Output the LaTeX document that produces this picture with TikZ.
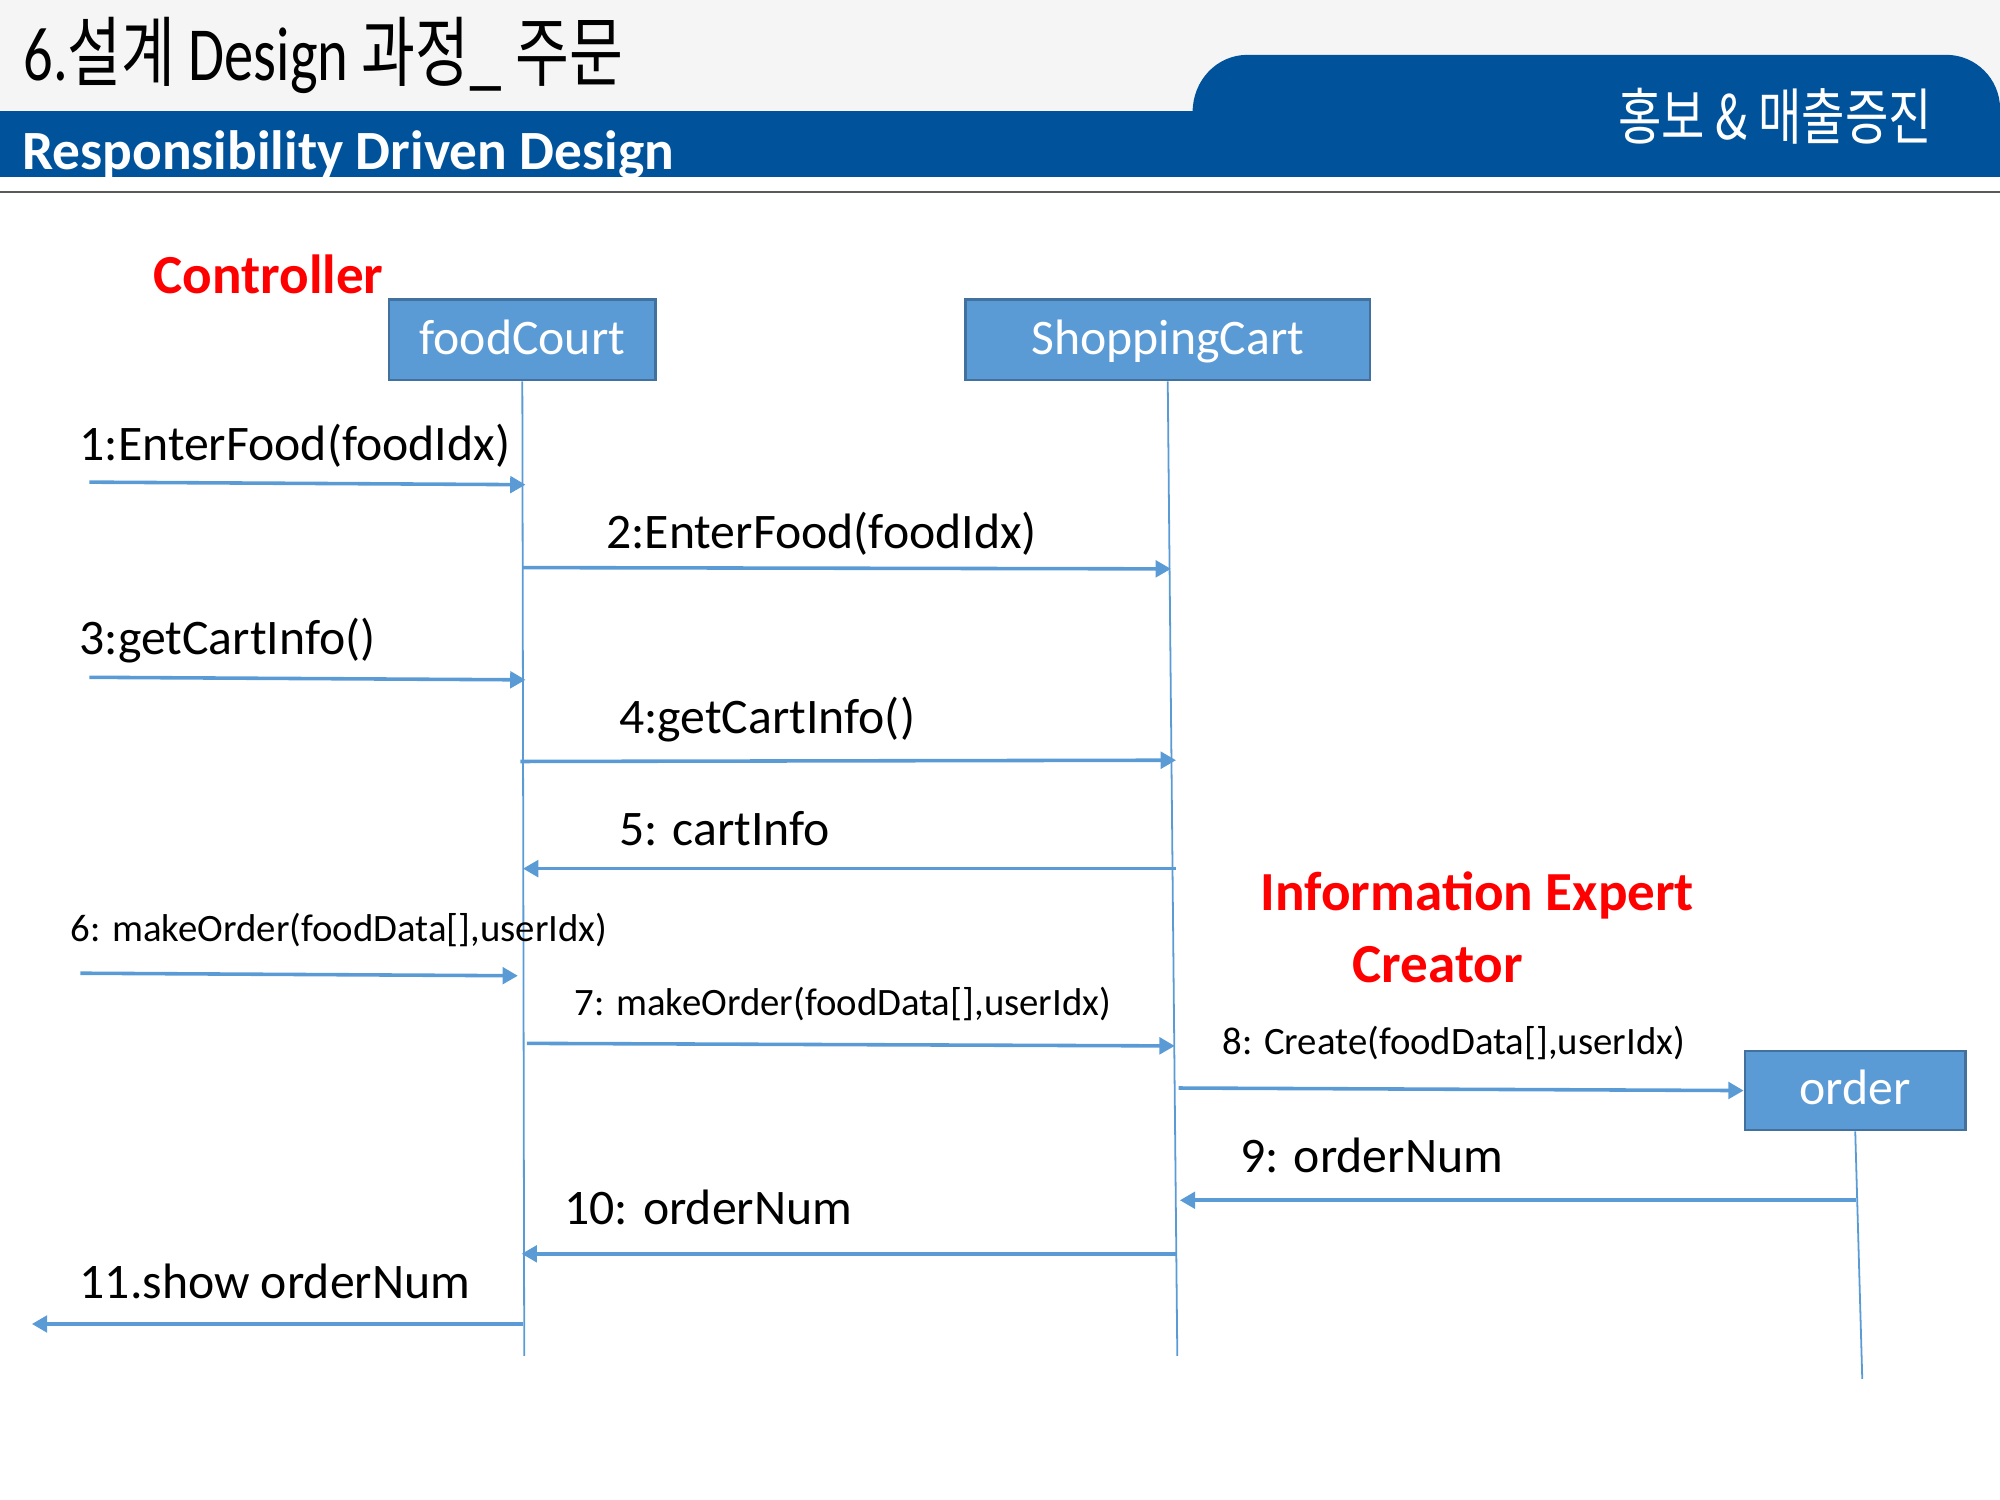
\documentclass[tikz,border=0pt]{standalone}
\usepackage{fontspec}
\setmainfont{Carlito}
\newfontfamily\kofont{Noto Sans CJK KR}
\newfontfamily\kotab[FakeStretch=0.77]{Noto Sans CJK KR}
\usetikzlibrary{arrows.meta}
\definecolor{barblue}{RGB}{0,83,155}
\definecolor{boxblue}{RGB}{91,155,213}
\definecolor{boxedge}{RGB}{65,113,156}
\definecolor{topgray}{RGB}{245,245,245}
\definecolor{rulegray}{RGB}{90,90,90}
\definecolor{rolered}{RGB}{255,0,0}
\tikzset{
  objbox/.style={draw=boxedge, line width=1pt, fill=boxblue, text=white, inner sep=0pt,
    font=\fontsize{19.5}{20}\selectfont, text height=1.22em, text depth=0.1em},
  lifeline/.style={draw=boxblue, line width=0.7pt},
  msg/.style={draw=boxblue, line width=1.4pt, -{Triangle[length=6pt,width=6.5pt]}},
  msglabel/.style={anchor=base west, inner sep=0pt, font=\fontsize{19.5}{20}\selectfont},
  msgsmall/.style={anchor=base west, inner sep=0pt, font=\fontsize{15.2}{16}\selectfont},
  rolelabel/.style={anchor=base west, inner sep=0pt, text=rolered, font=\fontsize{21.6}{22}\selectfont\bfseries}
}
\begin{document}
\begin{tikzpicture}[x=0.5pt,y=-0.5pt]
\useasboundingbox (0,0) rectangle (1568,1176);
% Drawing the header
\fill[topgray] (0,0) rectangle (1568,87);
\fill[barblue] (0,87) rectangle (1568,139);
\fill[barblue] (935,88) .. controls (935,63) and (954,43) .. (978,43) -- (1526,43)
  .. controls (1549,43) and (1568,62) .. (1568,85) -- (1568,88) -- cycle;
\draw[rulegray, line width=1pt] (0,150.5) -- (1568,150.5);
\node[anchor=base west, inner sep=0pt, xscale=0.765, font=\fontsize{30}{32}\selectfont] (title) at (18,63)
  {6.{\kofont 설계} Design {\kofont 과정\_ 주문}};
\begin{scope}
\clip (0,87) rectangle (1568,139);
\node[anchor=base west, inner sep=0pt, text=white, font=\fontsize{21.7}{22}\selectfont\bfseries] (subtitle) at (17,133)
  {Responsibility Driven Design};
\end{scope}
\node[anchor=base east, inner sep=0pt, text=white, font=\fontsize{24}{25}\selectfont\kotab] (topic) at (1515,109)
  {홍보 \& 매출증진};
% Done with header; drawing objects
\node[objbox, minimum width=104.5pt, minimum height=31.5pt] (fc) at (409.5,266.5) {foodCourt};
\node[objbox, minimum width=158.5pt, minimum height=31.5pt] (sc) at (915.5,266.5) {ShoppingCart};
\node[objbox, minimum width=86.5pt, minimum height=31pt] (od) at (1454.5,855) {order};
% Drawing lifelines
\coordinate (fcend) at (411,1063);
\coordinate (scend) at (923,1063);
\coordinate (odend) at (1460,1081);
\draw[lifeline] (fc.south) -- (fcend);
\draw[lifeline] (sc.south) -- (scend);
\draw[lifeline] (od.south) -- (odend);
% Drawing role labels
\node[rolelabel] (ctrl) at (120,230) {Controller};
\node[rolelabel] (expert) at (988,714) {Information Expert};
\node[rolelabel] (creator) at (1060,770) {Creator};
% Drawing messages
% Message 1: actor -> foodCourt
\coordinate (m1s) at (70,378);
\coordinate (m1e) at (412,380);
\draw[msg] (m1s) -- (m1e);
\node[msglabel] (m1) at (62,361) {1:EnterFood(foodIdx)};
% Message 2: foodCourt -> ShoppingCart
\coordinate (m2s) at (410,445);
\coordinate (m2e) at (918,446);
\draw[msg] (m2s) -- (m2e);
\node[msglabel] (m2) at (475,430) {2:EnterFood(foodIdx)};
% Message 3: actor -> foodCourt
\coordinate (m3s) at (70,531);
\coordinate (m3e) at (412,533);
\draw[msg] (m3s) -- (m3e);
\node[msglabel] (m3) at (62,513) {3:getCartInfo()};
% Message 4: foodCourt -> ShoppingCart
\coordinate (m4s) at (408,597);
\coordinate (m4e) at (922,596);
\draw[msg] (m4s) -- (m4e);
\node[msglabel] (m4) at (485,575) {4:getCartInfo()};
% Message 5: ShoppingCart -> foodCourt
\coordinate (m5s) at (922,681);
\coordinate (m5e) at (410,681);
\draw[msg] (m5s) -- (m5e);
\node[msglabel] (m5) at (485,663) {5: cartInfo};
% Message 6: actor -> foodCourt
\coordinate (m6s) at (63,763);
\coordinate (m6e) at (406,765);
\draw[msg] (m6s) -- (m6e);
\node[msgsmall] (m6) at (55,738) {6: makeOrder(foodData[],userIdx)};
% Message 7: foodCourt -> ShoppingCart
\coordinate (m7s) at (413,818);
\coordinate (m7e) at (921,820);
\draw[msg] (m7s) -- (m7e);
\node[msgsmall] (m7) at (450,796) {7: makeOrder(foodData[],userIdx)};
% Message 8: ShoppingCart -> order
\coordinate (m8s) at (924,853);
\draw[msg] (m8s) -- (od.west);
\node[msgsmall] (m8) at (958,827) {8: Create(foodData[],userIdx)};
% Message 9: order -> ShoppingCart
\coordinate (m9s) at (1455,941);
\coordinate (m9e) at (925,941);
\draw[msg] (m9s) -- (m9e);
\node[msglabel] (m9) at (972,919) {9: orderNum};
% Message 10: ShoppingCart -> foodCourt
\coordinate (m10s) at (923,983);
\coordinate (m10e) at (409,983);
\draw[msg] (m10s) -- (m10e);
\node[msglabel] (m10) at (442,960) {10: orderNum};
% Message 11: foodCourt -> actor
\coordinate (m11s) at (410,1038);
\coordinate (m11e) at (25,1038);
\draw[msg] (m11s) -- (m11e);
\node[msglabel] (m11) at (62,1018) {11.show orderNum};
% Done with messages
\end{tikzpicture}
\end{document}
